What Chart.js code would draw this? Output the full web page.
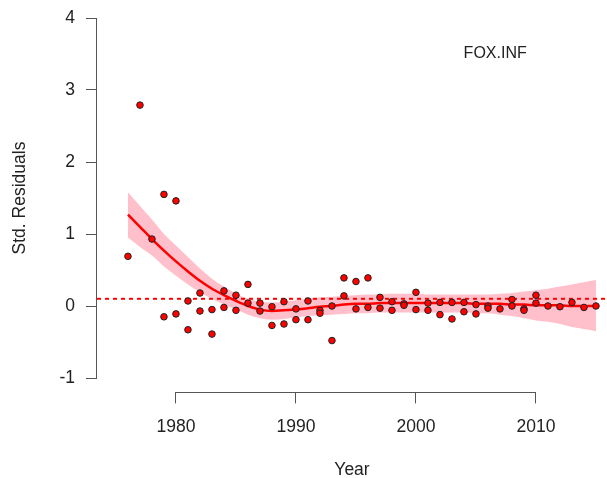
<!DOCTYPE html>
<html>
<head>
<meta charset="utf-8">
<script src="https://cdn.jsdelivr.net/npm/chart.js@4"></script>
<style>
  body { margin: 0; background: #fff; }
  #wrap { width: 607px; height: 478px; }
</style>
</head>
<body>
<div id="wrap"><canvas id="residChart"></canvas></div>
<script>
// Residual points (year, std. residual)
const pointYears = [1976, 1977, 1978, 1979, 1979, 1980, 1980, 1981, 1981, 1982, 1982,
  1983, 1983, 1984, 1984, 1985, 1985, 1986, 1986, 1987, 1987, 1988, 1988, 1989, 1989,
  1990, 1990, 1991, 1991, 1992, 1992, 1993, 1993, 1994, 1994, 1995, 1995, 1996, 1996,
  1997, 1997, 1998, 1998, 1999, 1999, 2000, 2000, 2001, 2001, 2002, 2002, 2003, 2003,
  2004, 2004, 2005, 2005, 2006, 2006, 2007, 2008, 2008, 2009, 2009, 2010, 2010,
  2011, 2012, 2013, 2014, 2015];
const pointValues = [0.69, 2.79, 0.93, 1.55, -0.15, 1.46, -0.11, 0.07, -0.33, 0.18, -0.07,
  -0.05, -0.39, 0.21, -0.02, 0.15, -0.06, 0.30, 0.04, 0.04, -0.07, -0.01, -0.27, 0.06, -0.25,
  -0.04, -0.19, 0.07, -0.19, -0.06, -0.10, 0.00, -0.48, 0.39, 0.14, 0.34, -0.04, 0.39, -0.02,
  0.12, -0.03, 0.06, -0.06, 0.03, 0.01, 0.19, -0.05, 0.04, -0.06, 0.05, -0.12, 0.05, -0.18,
  0.05, -0.08, 0.02, -0.11, 0.00, -0.03, -0.04, 0.09, 0.00, -0.04, -0.06, 0.15, 0.04,
  0.00, -0.01, 0.05, -0.02, 0.00];

// Smoothed fit with confidence band
const fitYears = [1976, 1977, 1978, 1979, 1980, 1981, 1982, 1983, 1984, 1985, 1986, 1987,
  1988, 1989, 1990, 1991, 1992, 1993, 1994, 1995, 1996, 1997, 1998, 1999, 2000, 2001,
  2002, 2003, 2004, 2005, 2006, 2007, 2008, 2009, 2010, 2011, 2012, 2013, 2014, 2015];
const fitValues = [1.27, 1.10, 0.93, 0.77, 0.62, 0.48, 0.35, 0.24, 0.15, 0.07, 0.00, -0.05,
  -0.07, -0.06, -0.05, -0.03, -0.01, 0.00, 0.02, 0.03, 0.03, 0.04, 0.04, 0.04, 0.04, 0.04,
  0.04, 0.04, 0.04, 0.03, 0.03, 0.03, 0.02, 0.02, 0.01, 0.01, 0.01, 0.00, 0.00, 0.00];
const upperValues = [1.58, 1.39, 1.20, 1.00, 0.84, 0.68, 0.52, 0.38, 0.27, 0.17, 0.10, 0.06,
  0.05, 0.06, 0.08, 0.10, 0.12, 0.13, 0.14, 0.15, 0.16, 0.16, 0.17, 0.17, 0.17, 0.16,
  0.16, 0.16, 0.16, 0.16, 0.16, 0.17, 0.18, 0.20, 0.22, 0.24, 0.27, 0.30, 0.33, 0.36];
const lowerValues = [0.95, 0.82, 0.70, 0.55, 0.42, 0.30, 0.19, 0.10, 0.02, -0.05, -0.12, -0.17,
  -0.19, -0.18, -0.16, -0.14, -0.13, -0.12, -0.11, -0.10, -0.10, -0.09, -0.09, -0.09, -0.09, -0.09,
  -0.09, -0.09, -0.09, -0.10, -0.10, -0.12, -0.14, -0.17, -0.20, -0.22, -0.25, -0.29, -0.32, -0.35];

const refLevel = 0.1;
const xTicks = [1980, 1990, 2000, 2010];
const yTicks = [-1, 0, 1, 2, 3, 4];
const xMin = 1973.42, xMax = 2015.92;
const yMin = -1.2, yMax = 4.2;
const stockLabel = 'FOX.INF';
const stockLabelPos = { x: 2006.6, y: 3.5 };

const axisColor = '#555';
const textColor = '#222';
const fontFamily = "'Liberation Sans', Arial, sans-serif";

const toXY = (xs, ys) => xs.map((x, i) => ({ x: x, y: ys[i] }));

// R-style axis lines that only run between the first and last tick
const rAxisPlugin = {
  id: 'rAxis',
  afterDraw(chart) {
    const ctx = chart.ctx;
    const xs = chart.scales.x, ys = chart.scales.y;
    const area = chart.chartArea;
    ctx.save();
    ctx.strokeStyle = axisColor;
    ctx.lineWidth = 1;
    ctx.beginPath();
    const by = Math.round(area.bottom) + 0.5;
    ctx.moveTo(xs.getPixelForValue(xTicks[0]), by);
    ctx.lineTo(xs.getPixelForValue(xTicks[xTicks.length - 1]), by);
    const lx = Math.round(area.left) - 0.5;
    ctx.moveTo(lx, ys.getPixelForValue(yTicks[0]));
    ctx.lineTo(lx, ys.getPixelForValue(yTicks[yTicks.length - 1]));
    ctx.stroke();

    ctx.fillStyle = textColor;
    ctx.font = '16px ' + fontFamily;
    ctx.textAlign = 'center';
    ctx.textBaseline = 'middle';
    ctx.fillText(stockLabel, xs.getPixelForValue(stockLabelPos.x), ys.getPixelForValue(stockLabelPos.y));
    ctx.restore();
  }
};

new Chart(document.getElementById('residChart'), {
  type: 'scatter',
  data: {
    datasets: [
      {
        label: 'Residuals',
        data: toXY(pointYears, pointValues),
        backgroundColor: '#ff0000',
        borderColor: '#222',
        borderWidth: 1,
        pointRadius: 3.3
      },
      {
        type: 'line',
        label: 'Fit',
        data: toXY(fitYears, fitValues),
        borderColor: '#ff0000',
        borderWidth: 2.5,
        pointRadius: 0,
        cubicInterpolationMode: 'monotone',
        fill: false
      },
      {
        type: 'line',
        label: 'Ref',
        data: [{ x: xMin, y: refLevel }, { x: xMax, y: refLevel }],
        borderColor: '#ff0000',
        borderWidth: 2,
        borderDash: [4, 4],
        pointRadius: 0,
        fill: false
      },
      {
        type: 'line',
        label: 'Upper',
        data: toXY(fitYears, upperValues),
        borderWidth: 0,
        borderColor: 'rgba(0,0,0,0)',
        backgroundColor: '#ffc0cb',
        pointRadius: 0,
        cubicInterpolationMode: 'monotone',
        fill: '+1'
      },
      {
        type: 'line',
        label: 'Lower',
        data: toXY(fitYears, lowerValues),
        borderWidth: 0,
        borderColor: 'rgba(0,0,0,0)',
        pointRadius: 0,
        cubicInterpolationMode: 'monotone',
        fill: false
      }
    ]
  },
  options: {
    responsive: true,
    maintainAspectRatio: false,
    animation: false,
    layout: { autoPadding: false, padding: { top: 3.6, right: 0, bottom: 0, left: 0 } },
    scales: {
      x: {
        type: 'linear',
        min: xMin,
        max: xMax,
        afterBuildTicks: function(scale) {
          scale.ticks = xTicks.map(v => ({ value: v }));
        },
        afterFit: function(scale) {
          scale.height = 85.6;
          scale.paddingLeft = 0;
          scale.paddingRight = 0;
        },
        border: { display: false },
        grid: { drawOnChartArea: false, drawTicks: true, tickLength: 11, color: axisColor },
        ticks: {
          color: textColor,
          padding: 13,
          font: { family: fontFamily, size: 17.5 },
          maxRotation: 0,
          callback: v => String(v)
        },
        title: {
          display: true,
          text: 'Year',
          color: textColor,
          padding: { top: 0, bottom: -1 },
          font: { family: fontFamily, size: 17.5, lineHeight: 1 }
        }
      },
      y: {
        min: yMin,
        max: yMax,
        afterBuildTicks: function(scale) {
          scale.ticks = yTicks.map(v => ({ value: v }));
        },
        afterFit: function(scale) {
          scale.width = 97;
          scale.paddingTop = 0;
          scale.paddingBottom = 0;
        },
        border: { display: false },
        grid: { drawOnChartArea: false, drawTicks: true, tickLength: 11, color: axisColor },
        ticks: {
          color: textColor,
          padding: 11,
          font: { family: fontFamily, size: 17.5 },
          callback: v => String(v)
        },
        title: {
          display: true,
          text: 'Std. Residuals',
          color: textColor,
          padding: { top: 11.25, bottom: 0 },
          font: { family: fontFamily, size: 17.5, lineHeight: 1 }
        }
      }
    },
    plugins: {
      legend: { display: false },
      tooltip: { enabled: false }
    }
  },
  plugins: [rAxisPlugin]
});
</script>
</body>
</html>
